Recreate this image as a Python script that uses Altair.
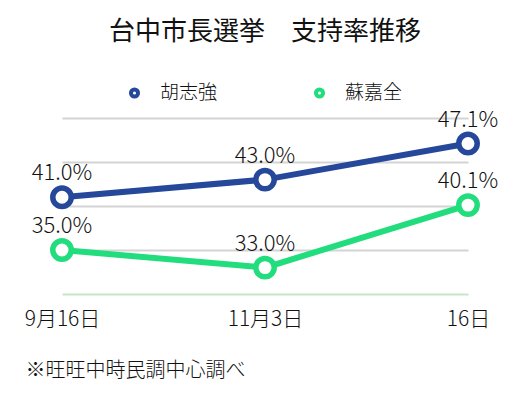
import altair as alt
import pandas as pd

dates = ["9月16日", "11月3日", "16日"]
candidates = ["胡志強", "蘇嘉全"]
hu_values = [41.0, 43.0, 47.1]
su_values = [35.0, 33.0, 40.1]
colors = ["#26489b", "#22dd7d"]
y_ticks = [30, 35, 40, 45, 50]

rows = []
for d, v in zip(dates, hu_values):
    rows.append({"date": d, "name": candidates[0], "value": v})
for d, v in zip(dates, su_values):
    rows.append({"date": d, "name": candidates[1], "value": v})
df = pd.DataFrame(rows)

FONT = "Noto Sans CJK JP"

x = alt.X("date:N", sort=dates, scale=alt.Scale(padding=0),
          axis=alt.Axis(title="※旺旺中時民調中心調べ", labelAngle=0, ticks=False, domain=False,
                        grid=False, labelFontSize=21, labelColor="#111", labelPadding=14,
                        labelFont=FONT, labelFontWeight=300, titleFont=FONT, titleFontSize=20,
                        titleFontWeight=300,
                        titleColor="#111", titleAlign="left", titleAnchor="start",
                        titleX=-37, titleY=82, titleBaseline="alphabetic"))
y = alt.Y("value:Q", scale=alt.Scale(domain=[30, 50]),
          axis=alt.Axis(title=None, labels=False, ticks=False, domain=False, values=y_ticks,
                        gridColor={"condition": {"test": "datum.value === 30", "value": "#c6e6c8"},
                                   "value": "#d4d4d4"},
                        gridWidth=2))
color = alt.Color("name:N", sort=candidates,
                  scale=alt.Scale(domain=candidates, range=colors),
                  legend=alt.Legend(title=None, orient="none", legendX=63, legendY=-35,
                                    direction="horizontal", symbolType="circle",
                                    symbolSize=50, symbolStrokeWidth=4, symbolFillColor="white",
                                    labelFont=FONT, labelFontSize=19, labelColor="#111",
                                    labelFontWeight=300,
                                    labelOffset=16, columnPadding=89))

base = alt.Chart(df).encode(x=x, y=y, color=color)
line = base.mark_line(strokeWidth=6)
pts = base.mark_point(shape="circle", filled=False, fill="white", fillOpacity=1,
                      size=340, strokeWidth=5.5, opacity=1)
labels = base.mark_text(font=FONT, fontSize=22, baseline="alphabetic", dy=-17,
                        fontWeight=300).encode(
    color=alt.value("#111")
).transform_calculate(lab="format(datum.value, '.1f') + '%'").encode(text="lab:N")

chart = alt.layer(line, pts, labels).properties(
    width=406, height=176,
    title=alt.TitleParams("台中市長選挙　支持率推移", font=FONT, fontSize=26,
                          fontWeight="normal", color="#111", anchor="middle", offset=38),
    padding={"left": 54, "top": 110, "right": 46, "bottom": 93},
    autosize=alt.AutoSizeParams(type="none"),
).configure_view(stroke=None)

chart.save("out.html", embed_options={"renderer": "svg", "actions": False})
